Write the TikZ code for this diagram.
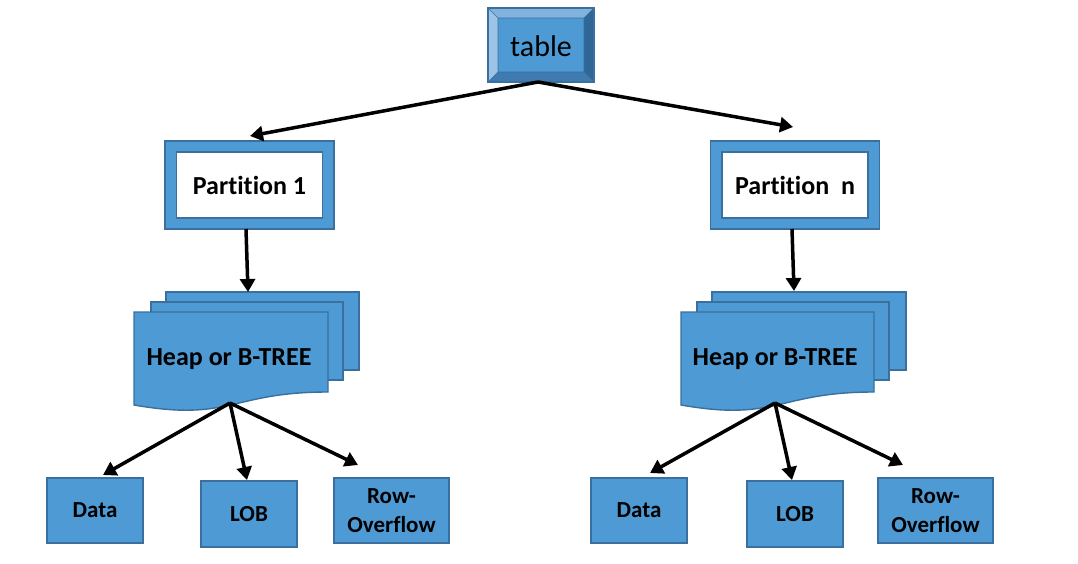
\documentclass[tikz,border=0pt]{standalone}
\usepackage{fontspec}
\setmainfont[Ligatures=NoCommon]{Carlito}
\usetikzlibrary{arrows.meta,calc}
\definecolor{face}{HTML}{4E9AD4}
\definecolor{edge}{HTML}{3A6F9E}
\definecolor{bevtop}{HTML}{82B3DF}
\definecolor{bevleft}{HTML}{9DC4E7}
\definecolor{bevright}{HTML}{2F6797}
\definecolor{bevbot}{HTML}{3F7BB1}
\tikzset{
  conn/.style={line width=3.5pt, black, -{Triangle[length=13pt,width=15pt]}},
  leaf/.style={draw=edge, fill=face, line width=1.4pt, inner sep=0pt,
    font=\fontsize{23}{29}\selectfont\bfseries, align=center},
  pouter/.style={draw=edge, fill=face, line width=1.4pt, inner sep=0pt,
    minimum width=169pt, minimum height=88pt},
  pinner/.style={draw=edge, fill=white, line width=1.6pt, inner sep=0pt,
    minimum width=146pt, minimum height=66pt,
    font=\fontsize{26}{31}\selectfont\bfseries},
  sheet/.style={draw=edge, fill=face, line width=1.4pt},
  heaptext/.style={font=\fontsize{26}{31}\selectfont\bfseries, inner sep=0pt}
}
\begin{document}
\begin{tikzpicture}[x=1pt,y=-1pt]
\useasboundingbox (0,0) rectangle (1078,564);
% ---------- table (bevelled box)
\fill[bevtop] (488,8) -- (594,8) -- (584,18) -- (498,18) -- cycle;
\fill[bevleft] (488,8) -- (498,18) -- (498,72) -- (488,82) -- cycle;
\fill[bevright] (594,8) -- (594,82) -- (584,72) -- (584,18) -- cycle;
\fill[bevbot] (488,82) -- (498,72) -- (584,72) -- (594,82) -- cycle;
\fill[face] (498,18) rectangle (584,72);
\draw[edge, line width=0.6pt] (488,8) -- (498,18) (594,8) -- (584,18)
   (488,82) -- (498,72) (594,82) -- (584,72) (498,18) rectangle (584,72);
\draw[edge, line width=1.2pt] (488,8) rectangle (594,82);
\node[font=\fontsize{30}{36}\selectfont, inner sep=0pt] (table) at (541,46) {table};
% ---------- partitions
\node[pouter] (p1o) at (249.5,185) {};
\node[pinner] (p1) at (249.5,185) {Partition 1};
\node[pouter] (pno) at (795,185) {};
\node[pinner] (pn) at (795,185) {Partition\ \ n};
% ---------- heaps (left)
\draw[sheet] (166,292) rectangle (359,370);
\draw[sheet] (151,302) rectangle (343,380);
\draw[sheet] (134,312) -- (328,312) -- (328,392) .. controls (231,392) and (231,422) .. (134,405) -- cycle;
\node[heaptext] (h1) at (229,359) {Heap or B-TREE};
% ---------- heaps (right)
\draw[sheet] (712,292) rectangle (906,370);
\draw[sheet] (697,302) rectangle (889,380);
\draw[sheet] (681,312) -- (874,312) -- (874,392) .. controls (777.5,392) and (777.5,422) .. (681,405) -- cycle;
\node[heaptext] (hn) at (775,359) {Heap or B-TREE};
% ---------- leaves
\node[leaf, minimum width=96pt, minimum height=65pt] (d1) at (95,510.5) {Data};
\node[leaf, minimum width=96pt, minimum height=66pt] (l1) at (249,514) {LOB};
\node[leaf, minimum width=115pt, minimum height=65pt] (r1) at (391.5,510.5) {Row-\\Overflow};
\node[leaf, minimum width=96pt, minimum height=65pt] (d2) at (639,510.5) {Data};
\node[leaf, minimum width=96pt, minimum height=66pt] (l2) at (795,514) {LOB};
\node[leaf, minimum width=115pt, minimum height=65pt] (r2) at (935.5,510.5) {Row-\\Overflow};
% ---------- connector end points
\coordinate (ts) at (538,82);
\coordinate (p1in) at (250,136);
\coordinate (pnin) at (793,127);
\coordinate (p1s) at (246,229);
\coordinate (h1in) at (248,292);
\coordinate (pns) at (792,229);
\coordinate (hnin) at (794,291);
\coordinate (h1s) at (230,403);
\coordinate (hns) at (775,403);
\coordinate (d1in) at (103,475);
\coordinate (l1in) at (247,480);
\coordinate (r1in) at (358,465);
\coordinate (d2in) at (650,473);
\coordinate (l2in) at (792,480);
\coordinate (r2in) at (903,465);
% ---------- connectors
\draw[conn] (ts) -- (p1in);
\draw[conn] (ts) -- (pnin);
\draw[conn] (p1s) -- (h1in);
\draw[conn] (pns) -- (hnin);
\draw[conn] (h1s) -- (d1in);
\draw[conn] (h1s) -- (l1in);
\draw[conn] (h1s) -- (r1in);
\draw[conn] (hns) -- (d2in);
\draw[conn] (hns) -- (l2in);
\draw[conn] (hns) -- (r2in);
\end{tikzpicture}
\end{document}
